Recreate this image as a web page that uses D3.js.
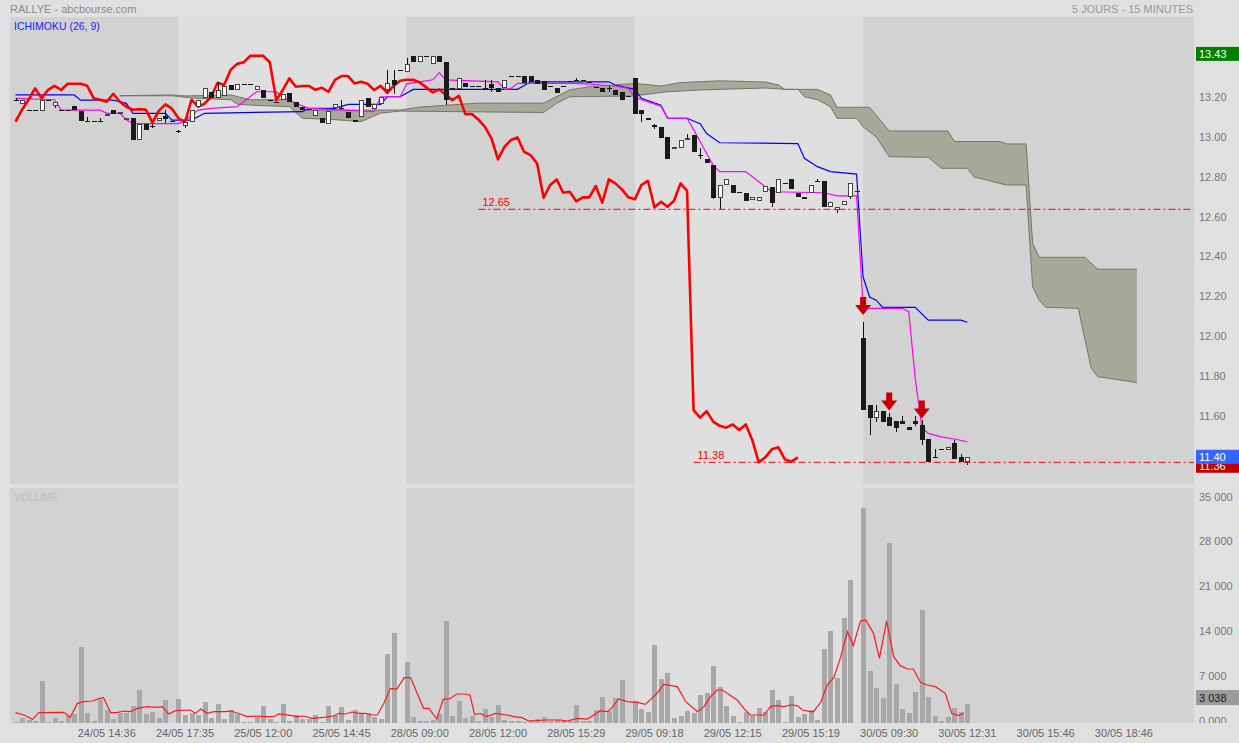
<!DOCTYPE html>
<html>
<head>
<meta charset="utf-8">
<script src="https://cdnjs.cloudflare.com/ajax/libs/d3/7.8.5/d3.min.js"></script>
<style>
  body { margin: 0; background: #e0e0e0; }
  svg { display: block; font-family: "Liberation Sans", Arial, sans-serif; }
</style>
</head>
<body>
<script>
// 15 minute candles, 24/05 -> 30/05, [open, high, low, close]
var ohlc = [
  [13.20,13.21,13.20,13.20],[13.18,13.20,13.18,13.20],[13.15,13.15,13.15,13.15],[13.15,13.15,13.15,13.15],[13.145,13.20,13.145,13.20],
  [13.20,13.20,13.20,13.20],[13.168,13.187,13.16,13.187],[13.147,13.147,13.147,13.147],[13.147,13.147,13.147,13.147],[13.17,13.17,13.147,13.147],
  [13.145,13.145,13.095,13.095],[13.095,13.115,13.095,13.095],[13.095,13.095,13.095,13.095],[13.095,13.11,13.095,13.095],[13.117,13.128,13.117,13.128],
  [13.147,13.147,13.128,13.128],[13.128,13.137,13.128,13.137],[13.097,13.11,13.097,13.11],[13.11,13.11,13.0,13.0],[13.0,13.08,13.0,13.08],
  [13.08,13.08,13.048,13.048],[13.07,13.08,13.06,13.07],[13.093,13.107,13.093,13.107],[13.117,13.15,13.085,13.103],[13.095,13.095,13.095,13.095],
  [13.043,13.05,13.035,13.043],[13.07,13.09,13.06,13.09],[13.09,13.15,13.09,13.15],[13.165,13.20,13.165,13.20],[13.207,13.257,13.207,13.257],
  [13.237,13.237,13.207,13.207],[13.207,13.29,13.207,13.25],[13.22,13.27,13.22,13.27],[13.274,13.274,13.249,13.249],[13.249,13.28,13.249,13.28],
  [13.28,13.28,13.28,13.28],[13.28,13.28,13.28,13.28],[13.25,13.27,13.25,13.27],[13.249,13.249,13.207,13.207],[13.20,13.20,13.20,13.20],
  [13.19,13.19,13.19,13.19],[13.20,13.23,13.20,13.23],[13.235,13.235,13.19,13.19],[13.19,13.19,13.165,13.165],[13.165,13.165,13.15,13.15],
  [13.153,13.153,13.153,13.153],[13.118,13.15,13.118,13.15],[13.108,13.108,13.085,13.085],[13.08,13.145,13.08,13.145],[13.16,13.177,13.16,13.177],
  [13.16,13.20,13.155,13.155],[13.14,13.14,13.107,13.107],[13.098,13.098,13.087,13.087],[13.115,13.20,13.115,13.20],[13.21,13.21,13.165,13.165],
  [13.155,13.18,13.155,13.18],[13.177,13.215,13.177,13.215],[13.249,13.35,13.23,13.285],[13.30,13.35,13.23,13.274],[13.35,13.35,13.35,13.35],
  [13.34,13.41,13.34,13.38],[13.42,13.42,13.388,13.388],[13.388,13.42,13.388,13.42],[13.42,13.42,13.42,13.42],[13.378,13.42,13.378,13.42],
  [13.42,13.42,13.388,13.388],[13.388,13.388,13.173,13.198],[13.257,13.257,13.249,13.249],[13.252,13.307,13.252,13.307],[13.282,13.282,13.265,13.265],
  [13.269,13.269,13.269,13.269],[13.269,13.269,13.269,13.269],[13.257,13.30,13.25,13.25],[13.28,13.30,13.24,13.26],[13.257,13.257,13.24,13.24],
  [13.257,13.30,13.257,13.30],[13.319,13.319,13.319,13.319],[13.319,13.319,13.319,13.319],[13.319,13.319,13.282,13.282],[13.319,13.319,13.29,13.29],
  [13.30,13.30,13.28,13.28],[13.294,13.294,13.249,13.249],[13.27,13.27,13.27,13.27],[13.257,13.257,13.235,13.235],[13.27,13.27,13.27,13.27],
  [13.295,13.295,13.295,13.295],[13.30,13.31,13.30,13.30],[13.30,13.30,13.30,13.30],[13.287,13.287,13.287,13.287],[13.262,13.262,13.262,13.262],
  [13.257,13.257,13.237,13.237],[13.26,13.27,13.24,13.252],[13.25,13.25,13.224,13.224],[13.24,13.24,13.198,13.198],[13.22,13.22,13.22,13.22],
  [13.307,13.307,13.128,13.128],[13.148,13.148,13.09,13.128],[13.108,13.108,13.10,13.10],[13.075,13.08,13.055,13.064],[13.061,13.061,13.006,13.006],
  [13.011,13.011,12.901,12.901],[12.951,12.964,12.951,12.964],[12.96,12.998,12.96,12.998],[13.0,13.03,13.0,13.01],[13.023,13.023,12.939,12.939],
  [12.922,12.96,12.90,12.922],[12.90,12.90,12.88,12.88],[12.872,12.872,12.70,12.708],[12.708,12.772,12.65,12.772],[12.772,12.80,12.772,12.80],
  [12.772,12.772,12.733,12.733],[12.738,12.738,12.738,12.738],[12.733,12.733,12.69,12.69],[12.696,12.71,12.696,12.71],[12.69,12.71,12.69,12.71],
  [12.738,12.767,12.738,12.767],[12.763,12.763,12.66,12.683],[12.73,12.80,12.73,12.80],[12.78,12.78,12.78,12.78],[12.80,12.80,12.75,12.75],
  [12.73,12.73,12.71,12.71],[12.713,12.713,12.70,12.70],[12.73,12.772,12.73,12.772],[12.793,12.80,12.793,12.793],[12.793,12.793,12.66,12.66],
  [12.66,12.688,12.66,12.688],[12.646,12.663,12.633,12.663],[12.67,12.693,12.67,12.693],[12.713,12.78,12.70,12.78],[12.742,12.742,12.742,12.742],
  [12.002,12.085,11.642,11.642],[11.667,11.667,11.517,11.604],[11.604,11.667,11.58,11.637],[11.637,11.637,11.584,11.584],[11.609,11.627,11.563,11.563],
  [11.587,11.587,11.53,11.554],[11.587,11.61,11.57,11.57],[11.557,11.557,11.542,11.542],[11.587,11.61,11.56,11.57],[11.567,11.59,11.465,11.492],
  [11.497,11.497,11.38,11.38],[11.405,11.445,11.405,11.405],[11.445,11.445,11.445,11.445],[11.442,11.455,11.442,11.455],[11.475,11.49,11.395,11.395],
  [11.408,11.42,11.383,11.383],[11.383,11.405,11.366,11.405]
]

var volumes = [
  200,730,400,350,6560,200,730,350,1090,1400,
  11830,1610,350,3590,2030,570,1510,1510,2660,5160,
  1350,1720,850,3590,0,3750,1250,1610,1250,3230,
  850,2910,650,2030,1400,200,200,1000,2660,650,
  200,2910,350,1250,570,570,1250,200,2660,1250,
  2450,470,2030,1510,1510,900,650,10780,14110,0,
  9580,1000,350,350,470,1400,15990,1150,3440,850,
  1090,350,2130,990,2810,470,360,260,150,470,
  680,880,260,470,260,360,2810,360,260,2030,
  4010,1880,3960,6720,0,3440,2130,1670,12190,6880,
  7760,730,1150,1820,1560,4380,4640,8910,5630,2710,
  1150,100,1670,1150,2400,1670,5160,3590,100,4220,
  880,1410,2030,520,11510,14380,7080,16350,22340,0,
  33640,8130,5420,3960,28180,6150,2130,1560,4900,17660,
  4120,1150,260,880,2400,1670,3038
]

// [candle index, value]
var volAvg = [[0,1610],[1.3,1250],[2.6,570],[3.6,1610],[7.4,1660],[8.4,890],[9.5,3070],[10.5,3330],[11.8,3440],[12.8,3800],
  [13.5,3960],[14.6,1610],[15.6,1610],[16.6,1870],[17.6,1770],[18.7,2290],[20.2,2550],[21.7,2450],[22.5,2550],[23.5,1410],
  [24.5,1930],[26.8,2030],[27.6,1510],[28.4,2190],[29.4,1510],[30.4,1770],[32,1770],[33,1870],[34.5,1410],[35.5,990],
  [37.1,1090],[38.1,990],[39.6,990],[40.4,1410],[42.2,1200],[43.2,990],[44.2,1090],[45.5,730],[47.3,890],[48.8,1090],
  [49.6,1510],[50.6,1410],[51.6,1720],[52.7,1510],[53.7,1510],[54.7,1250],[55.5,1250],[56.5,3070],[57.5,5420],[58.5,5310],
  [59.6,7080],[60.6,7080],[61.6,4640],[62.6,2290],[63.4,2290],[64.6,620],[65.6,3700],[66.6,3800],[67.7,4530],[68.8,4530],
  [69.7,4380],[70.4,1350],[71.3,1480],[72.3,990],[73.6,1510],[75.4,1250],[76.4,990],[77.7,830],[78.7,310],[81.5,470],
  [83.6,470],[84.6,310],[86.2,730],[87.7,620],[89.7,1880],[90.8,1770],[91.5,2400],[92.5,3750],[93.8,3330],[95.4,3230],
  [96.6,2910],[98.4,4640],[99.4,6040],[101.5,5680],[102.8,3330],[104.6,1770],[105.6,2550],[106.6,4120],[107.6,5160],[108.4,5160],
  [110.7,3590],[111.7,2290],[112.7,1250],[114.8,1250],[115.8,2550],[116.8,2710],[117.8,2550],[118.9,2810],[119.9,2710],[120.7,2030],
  [121.9,1770],[122.4,1770],[123.5,3230],[124.5,5940],[125.5,7080],[126.5,10100],[127.6,14270],[128.5,12080],[129.6,15940],[130.4,16090],
  [131.6,14010],[132.5,10100],[133.6,15940],[134.7,10360],[135.7,8960],[136.8,8440],[137.7,8440],[138.8,6350],[139.8,5940],[141.1,5680],
  [142.6,4640],[143.6,1510],[144.6,1150],[145.4,1510]]

var tenkan = [[0,13.207],[6,13.20],[7,13.148],[13,13.148],[14,13.132],[16,13.132],[17,13.10],[18,13.08],[25,13.08],[26,13.095],
  [28,13.148],[30,13.157],[34,13.165],[37,13.24],[40,13.24],[41,13.215],[43,13.182],[45,13.157],[55,13.14],[56,13.215],
  [59,13.215],[60,13.28],[64,13.30],[65,13.336],[66,13.30],[74,13.29],[75,13.252],[76,13.257],[77,13.282],[86,13.282],
  [90,13.274],[92,13.269],[94,13.257],[95,13.215],[96,13.20],[99,13.168],[100,13.107],[103,13.107],[104,13.05],[105,12.99],
  [106,12.93],[107,12.872],[108,12.839],[112,12.839],[114,12.788],[116,12.738],[124,12.733],[126,12.717],[129,12.717],[130,12.16],
  [131,12.153],[136,12.153],[137,12.136],[138,11.80],[139,11.558],[140,11.525],[142,11.508],[144,11.497],[146,11.483]]

var kijun = [[0,13.224],[9,13.224],[10,13.198],[15,13.198],[16,13.19],[17,13.182],[18,13.132],[23,13.132],[24,13.098],[27,13.098],
  [29,13.132],[44,13.14],[45,13.157],[49,13.157],[51,13.177],[56,13.177],[57,13.215],[59,13.215],[61,13.252],[77,13.252],
  [79,13.29],[91,13.29],[92,13.274],[95,13.252],[96,13.207],[99,13.173],[100,13.107],[103,13.107],[105,13.08],[106,13.03],
  [108,12.984],[120,12.98],[121,12.906],[123,12.864],[125,12.839],[129,12.827],[130,12.31],[131,12.21],[132,12.194],[133,12.158],
  [138,12.158],[140,12.094],[145,12.094],[146,12.083]]

var spanA = [[16,13.22],[24,13.224],[26,13.219],[33,13.224],[36,13.20],[42,13.20],[44,13.148],[59,13.148],[62,13.163],[71,13.183],
  [81,13.183],[85,13.249],[88,13.265],[92,13.274],[95,13.282],[99,13.269],[102,13.286],[108,13.295],[115,13.289],[117,13.274],
  [118,13.252],[123,13.252],[125,13.224],[126,13.162],[131,13.162],[132,13.123],[134,13.043],[143,13.043],[144,12.99],[151,12.99],
  [152,12.978],[155,12.978],[156,12.479],[157,12.409],[164,12.409],[166,12.349],[172,12.349]]

var spanB = [[16,13.22],[24,13.22],[26,13.212],[28,13.207],[33,13.20],[34,13.178],[36,13.173],[42,13.165],[44,13.107],[49,13.10],
  [53,13.09],[56,13.133],[59,13.143],[81,13.136],[83,13.182],[85,13.215],[95,13.219],[96,13.224],[100,13.24],[105,13.249],
  [115,13.259],[118,13.252],[120,13.252],[121,13.215],[123,13.20],[125,13.165],[126,13.107],[129,13.107],[130,13.064],[132,13.014],
  [134,12.914],[140,12.911],[142,12.856],[146,12.856],[147,12.813],[152,12.772],[155,12.772],[156,12.261],[157,12.194],[158,12.158],
  [163,12.153],[165,11.851],[166,11.81],[170,11.79],[172,11.78]]

var chikouShift = 26
var dayStarts = [0, 25, 60, 95, 130]
var levels = [{ value: 12.65, from: 71 }, { value: 11.38, from: 104 }]
var signals = [[130, 12.12], [134, 11.64], [139, 11.60]]

var priceTicks = [13.2, 13.0, 12.8, 12.6, 12.4, 12.2, 12.0, 11.8, 11.6]
var volTicks = [0, 7000, 14000, 21000, 28000, 35000]
var volTickLabels = ['0.000', '7 000', '14 000', '21 000', '28 000', '35 000']
var xLabelIdx = [14, 26, 38, 50, 62, 74, 86, 98, 110, 122, 134, 146, 158, 170]
var xLabelText = ['24/05 14:36', '24/05 17:35', '25/05 12:00', '25/05 14:45', '28/05 09:00', '28/05 12:00', '28/05 15:29',
  '29/05 09:18', '29/05 12:15', '29/05 15:19', '30/05 09:30', '30/05 12:31', '30/05 15:46', '30/05 18:46']

var tags = [
  { value: 13.43, fill: '#008000', color: '#fff' },
  { value: 11.36, fill: '#c00000', color: '#fff' },
  { value: 11.40, fill: '#3366ff', color: '#fff' }
]
var lastVolume = 3038


var W = 1239, H = 743
var left = 10, right = 1194
var pTop = 17, pBot = 484, vTop = 488, vBot = 723

var x = d3.scaleLinear().domain([0, 172]).range([15.5, 15.5 + 6.52 * 172])
var y = d3.scaleLinear().domain([11.38, 12.65]).range([462.3, 209.3])
var yv = d3.scaleLinear().domain([0, 35000]).range([vBot, 499])

var svg = d3.select('body').append('svg').attr('width', W).attr('height', H)
svg.append('rect').attr('width', W).attr('height', H).attr('fill', '#e0e0e0')

var defs = svg.append('defs')
defs.append('clipPath').attr('id', 'clipP').append('rect')
  .attr('x', left).attr('y', pTop).attr('width', right - left).attr('height', pBot - pTop)
defs.append('clipPath').attr('id', 'clipV').append('rect')
  .attr('x', left).attr('y', vTop).attr('width', right - left).attr('height', vBot - vTop)
defs.append('clipPath').attr('id', 'clipAxis').append('rect')
  .attr('x', right).attr('y', 0).attr('width', W - right).attr('height', vBot)

// panels with alternating day bands
;[[pTop, pBot], [vTop, vBot]].forEach(function(p) {
  svg.append('rect').attr('x', left).attr('y', p[0]).attr('width', right - left).attr('height', p[1] - p[0]).attr('fill', '#dfdfdf')
  dayStarts.forEach(function(s, k) {
    if (k % 2) return
    var x0 = k === 0 ? left : x(s)
    var x1 = k === dayStarts.length - 1 ? right : x(dayStarts[k + 1])
    svg.append('rect').attr('x', x0).attr('y', p[0]).attr('width', x1 - x0).attr('height', p[1] - p[0]).attr('fill', '#d2d2d2')
  })
})

var gp = svg.append('g').attr('clip-path', 'url(#clipP)')
var gv = svg.append('g').attr('clip-path', 'url(#clipV)')

var line = d3.line().x(function(d) { return x(d[0]) }).y(function(d) { return y(d[1]) })

// kumo
var poly = spanA.concat(spanB.slice().reverse()).map(function(d) { return [x(d[0]), y(d[1])] })
gp.append('path').attr('d', 'M' + poly.join('L') + 'Z').attr('fill', '#a9a99a')
;[spanA, spanB].forEach(function(s) {
  gp.append('path').attr('d', line(s)).attr('fill', 'none').attr('stroke', '#74746a').attr('stroke-width', 1)
})

gp.append('path').attr('d', line(kijun)).attr('fill', 'none').attr('stroke', '#0000ff').attr('stroke-width', 1.2)
gp.append('path').attr('d', line(tenkan)).attr('fill', 'none').attr('stroke', '#ff00ff').attr('stroke-width', 1.2)

// chikou = closes drawn 26 periods back
var chikou = ohlc.slice(chikouShift).map(function(d, i) { return [i, d[3]] })
gp.append('path').attr('d', line(chikou)).attr('fill', 'none').attr('stroke', '#ff0000')
  .attr('stroke-width', 2.6).attr('stroke-linejoin', 'round')

// candles
var gc = gp.append('g').attr('shape-rendering', 'crispEdges')
ohlc.forEach(function(d, i) {
  var xc = Math.round(x(i))
  var o = d[0], h = d[1], l = d[2], c = d[3]
  if (h > Math.max(o, c) || l < Math.min(o, c)) {
    gc.append('line').attr('x1', xc + 0.5).attr('x2', xc + 0.5)
      .attr('y1', Math.round(y(h))).attr('y2', Math.round(y(l))).attr('stroke', '#111')
  }
  var top = Math.round(y(Math.max(o, c)))
  var bot = Math.round(y(Math.min(o, c)))
  var hh = bot - top
  if (hh < 2) {
    gc.append('rect').attr('x', xc - 2).attr('y', top).attr('width', 5).attr('height', 1).attr('fill', '#111')
  } else if (c > o) {
    gc.append('rect').attr('x', xc - 1.5).attr('y', top + 0.5).attr('width', 4).attr('height', hh - 1)
      .attr('fill', '#fff').attr('stroke', '#444')
  } else {
    gc.append('rect').attr('x', xc - 2).attr('y', top).attr('width', 5).attr('height', hh).attr('fill', '#1a1a1a')
  }
})

// support levels
levels.forEach(function(lv) {
  gp.append('line').attr('x1', x(lv.from)).attr('x2', right).attr('y1', y(lv.value)).attr('y2', y(lv.value))
    .attr('stroke', '#ff0000').attr('stroke-dasharray', '7,3,2,3')
  gp.append('text').attr('x', x(lv.from) + 4).attr('y', y(lv.value) - 3)
    .attr('fill', '#ff0000').attr('font-size', 11).text(lv.value.toFixed(2))
})

// sell signals
signals.forEach(function(s) {
  var xc = x(s[0]), ty = y(s[1])
  var pts = [[xc - 3, ty - 18], [xc + 3, ty - 18], [xc + 3, ty - 10], [xc + 8, ty - 10], [xc, ty], [xc - 8, ty - 10], [xc - 3, ty - 10]]
  gp.append('path').attr('d', 'M' + pts.join('L') + 'Z').attr('fill', '#c40000')
})

// volume
gv.append('g').attr('shape-rendering', 'crispEdges').selectAll('rect').data(volumes).enter().append('rect')
  .attr('x', function(d, i) { return Math.round(x(i)) - 2 })
  .attr('y', function(d) { return yv(d) })
  .attr('width', 5)
  .attr('height', function(d) { return vBot - yv(d) })
  .attr('fill', '#a8a8a8')
gv.append('path').attr('d', d3.line().x(function(d) { return x(d[0]) }).y(function(d) { return yv(d[1]) })(volAvg))
  .attr('fill', 'none').attr('stroke', '#ff1a1a').attr('stroke-width', 1.2)

// titles
svg.append('text').attr('x', 10).attr('y', 13).attr('font-size', 11).attr('fill', '#8a8a8a').text('RALLYE - abcbourse.com')
svg.append('text').attr('x', 1193).attr('y', 13).attr('font-size', 11).attr('fill', '#999').attr('text-anchor', 'end')
  .text('5 JOURS - 15 MINUTES')
svg.append('text').attr('x', 14).attr('y', 29.5).attr('font-size', 10.5).attr('fill', '#1a1aff').text('ICHIMOKU (26, 9)')
svg.append('text').attr('x', 14).attr('y', 501).attr('font-size', 10.5).attr('fill', '#bdbdbd').text('VOLUME')

// right axis
var ga = svg.append('g').attr('clip-path', 'url(#clipAxis)').attr('font-size', 11).attr('fill', '#777')
priceTicks.forEach(function(v) {
  ga.append('text').attr('x', 1199).attr('y', y(v) + 1.3).text(v.toFixed(2))
})
volTicks.forEach(function(v, i) {
  ga.append('text').attr('x', 1199).attr('y', yv(v) + 1.5).text(volTickLabels[i])
})

tags.forEach(function(t, i) {
  var cy = y(t.value) - (i === 0 ? 0 : i === 1 ? 0.5 : 1.5)
  svg.append('rect').attr('x', 1196).attr('y', cy - 7).attr('width', W - 1196).attr('height', 14).attr('fill', t.fill)
  svg.append('text').attr('x', 1199).attr('y', cy + 4).attr('font-size', 11).attr('fill', t.color).text(t.value.toFixed(2))
})
var vy = yv(lastVolume) - 6
svg.append('rect').attr('x', 1196).attr('y', vy - 7.5).attr('width', W - 1196).attr('height', 15).attr('fill', '#9a9a9a')
svg.append('text').attr('x', 1199).attr('y', vy + 4).attr('font-size', 11).attr('fill', '#1a1a1a')
  .text(d3.format(',')(lastVolume).replace(',', ' '))

// time axis
xLabelIdx.forEach(function(i, k) {
  svg.append('text').attr('x', x(i)).attr('y', 737).attr('text-anchor', 'middle')
    .attr('font-size', 11).attr('fill', '#666').text(xLabelText[k])
})
</script>
</body>
</html>
